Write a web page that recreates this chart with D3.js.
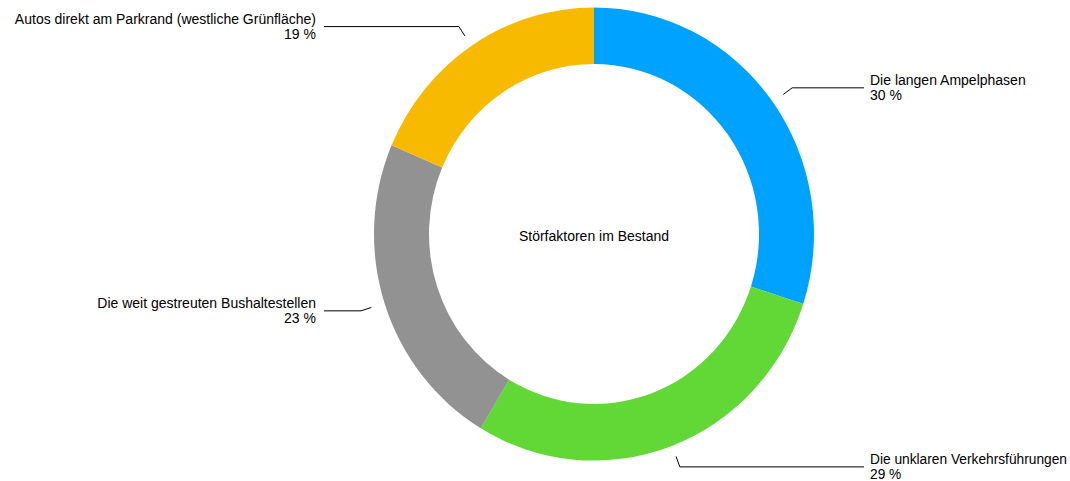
<!DOCTYPE html>
<html>
<head>
    <meta charset="utf-8">
    <title>Störfaktoren im Bestand</title>
    <style>
        html, body { margin: 0; padding: 0; background: #fff; }
        svg { display: block; }
    </style>
</head>
<body>
    <script src="https://d3js.org/d3.v7.min.js"></script>
    <script>
    // data
    var categories = [
        "Die langen Ampelphasen",
        "Die unklaren Verkehrsführungen",
        "Die weit gestreuten Bushaltestellen",
        "Die Autos direkt am Parkrand (westliche Grünfläche)"
    ];
    var values = [30, 28.6, 22.8, 18.6];
    var colors = ["#00A2FF", "#61D836", "#929292", "#F8BA00"];
    var title = "Störfaktoren im Bestand";

    const width = 1070;
    const height = 481;
    const cx = 594;
    const cy = 234;
    const outerR = 220;
    const innerR = 165;
    const yStretch = 1.03;     // the ring in the picture is a bit taller than wide
    const leaderStretch = 1.015;
    const lineStartR = 234;
    const elbowR = 245;
    const labelColX = 270;     // horizontal distance of the leader end from centre

    const svg = d3.select("body")
        .append("svg")
        .attr("width", width)
        .attr("height", height)
        .style("font-family", "'Liberation Sans', Arial, Helvetica, sans-serif")
        .style("font-size", "14px");

    // left labels are cut a little inside the page edge, as in the picture
    svg.append("clipPath")
        .attr("id", "labelClip")
        .append("rect")
        .attr("x", 12)
        .attr("y", 0)
        .attr("width", width - 12)
        .attr("height", height);

    var total = d3.sum(values);

    var pie = d3.pie().sort(null).value(function(d) { return d; });
    var arcs = pie(values);

    var arc = d3.arc()
        .innerRadius(innerR)
        .outerRadius(outerR);

    // ring
    svg.append("g")
        .attr("transform", "translate(" + cx + "," + cy + ") scale(1," + yStretch + ")")
        .selectAll("path")
        .data(arcs)
        .enter()
        .append("path")
        .attr("fill", function(d, i) { return colors[i]; })
        .attr("d", arc);

    // point on a radius at the slice's middle angle
    function polar(a, r) {
        return [cx + Math.sin(a) * r, cy - Math.cos(a) * r * leaderStretch];
    }

    function midAngle(d) { return (d.startAngle + d.endAngle) / 2; }

    var labels = svg.append("g")
        .attr("clip-path", "url(#labelClip)")
        .selectAll("g")
        .data(arcs)
        .enter()
        .append("g");

    labels.append("polyline")
        .attr("fill", "none")
        .attr("stroke", "#000")
        .attr("stroke-width", 1)
        .attr("points", function(d) {
            var mid = midAngle(d);
            var p0 = polar(mid, lineStartR);
            var p1 = polar(mid, elbowR);
            var right = Math.sin(mid) > 0;
            var x2 = right ? cx + labelColX : cx - labelColX;
            return [p0, p1, [x2, p1[1]]].map(function(p) { return p.join(","); }).join(" ");
        });

    var texts = labels.append("text")
        .attr("fill", "#000")
        .attr("text-anchor", function(d) {
            return Math.sin(midAngle(d)) > 0 ? "start" : "end";
        })
        .attr("transform", function(d) {
            var mid = midAngle(d);
            var p1 = polar(mid, elbowR);
            var right = Math.sin(mid) > 0;
            var x = right ? cx + labelColX + 6 : cx - labelColX - 8;
            return "translate(" + x + "," + p1[1] + ")";
        });

    texts.append("tspan")
        .attr("x", 0)
        .attr("y", -2.5)
        .text(function(d, i) { return categories[i]; });

    texts.append("tspan")
        .attr("x", 0)
        .attr("y", 12)
        .text(function(d) { return Math.round(d.data / total * 100) + " %"; });

    // right-hand labels that run past the page edge get a smaller size
    texts.each(function(d) {
        if (Math.sin(midAngle(d)) <= 0) return;
        var t = d3.select(this);
        var m = /translate\(([-\d.]+)/.exec(t.attr("transform"));
        var x0 = +m[1];
        var w = this.getBBox().width;
        if (x0 + w > width - 3) {
            t.style("font-size", (14 * (width - 3 - x0) / w).toFixed(2) + "px");
        }
    });

    // centre title
    svg.append("text")
        .attr("x", cx)
        .attr("y", cy + 7)
        .attr("text-anchor", "middle")
        .attr("fill", "#000")
        .text(title);
    </script>
</body>
</html>
